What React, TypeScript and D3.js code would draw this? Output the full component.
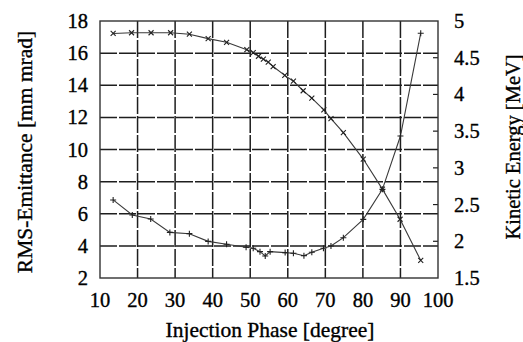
import React, { useEffect, useRef } from "react";
import * as d3 from "d3";

// Emittance series (left axis)
const emitPhase = [13.5, 18.6, 23.5, 28.6, 33.8, 38.8, 43.7, 48.9, 50.8, 52.6, 54.0, 55.3, 59.3, 61.5, 64.3, 66.4, 69.5, 71.5, 74.8, 80.1, 85.2, 90.0, 95.4];
const emitValues = [6.86, 5.92, 5.67, 4.84, 4.76, 4.28, 4.1, 3.91, 3.85, 3.64, 3.37, 3.64, 3.58, 3.54, 3.39, 3.6, 3.85, 3.99, 4.51, 5.65, 7.52, 10.84, 17.24];

// Kinetic energy series (right axis)
const energyPhase = [13.5, 18.4, 23.6, 28.8, 33.8, 38.8, 43.7, 49.1, 50.8, 52.2, 53.5, 54.8, 56.1, 59.2, 61.5, 64.1, 66.4, 69.6, 71.5, 74.8, 80.1, 85.2, 89.9, 95.4];
const energyValues = [4.83, 4.84, 4.84, 4.84, 4.82, 4.76, 4.71, 4.61, 4.57, 4.52, 4.48, 4.44, 4.38, 4.26, 4.18, 4.05, 3.95, 3.79, 3.67, 3.48, 3.12, 2.71, 2.3, 1.74];

const xTicks = [10, 20, 30, 40, 50, 60, 70, 80, 90, 100];
const leftTicks = [2, 4, 6, 8, 10, 12, 14, 16, 18];
const rightTicks = [1.5, 2, 2.5, 3, 3.5, 4, 4.5, 5];

const width = 523;
const height = 342;
const FONT = "Liberation Serif, serif";

export default function App() {
    const svgRef = useRef<SVGSVGElement>(null);

    useEffect(() => {
        const margin = { top: 21, right: 85, bottom: 64, left: 100 };
        const innerWidth = width - margin.left - margin.right;
        const innerHeight = height - margin.top - margin.bottom;

        const svg = d3.select(svgRef.current);
        svg.selectAll("*").remove();

        const g = svg.append("g").attr("transform", `translate(${margin.left},${margin.top})`);

        const x = d3.scaleLinear().domain([10, 100]).range([0, innerWidth]);
        const yL = d3.scaleLinear().domain([2, 18]).range([innerHeight, 0]);
        const yR = d3.scaleLinear().domain([1.5, 5]).range([innerHeight, 0]);

        const gridColor = "#1e1e1e";

        // grid
        g.append("g")
            .selectAll("line")
            .data(xTicks.slice(1, -1))
            .join("line")
            .attr("x1", (d) => x(d))
            .attr("x2", (d) => x(d))
            .attr("y1", 0)
            .attr("y2", innerHeight)
            .attr("stroke", gridColor)
            .attr("stroke-width", 1.5)
            .attr("stroke-dasharray", "17,2");

        g.append("g")
            .selectAll("line")
            .data(leftTicks.slice(1, -1))
            .join("line")
            .attr("x1", 0)
            .attr("x2", innerWidth)
            .attr("y1", (d) => yL(d))
            .attr("y2", (d) => yL(d))
            .attr("stroke", gridColor)
            .attr("stroke-width", 1.5)
            .attr("stroke-dasharray", "17,2");

        // right axis inward ticks
        g.append("g")
            .selectAll("line")
            .data(rightTicks.slice(1, -1))
            .join("line")
            .attr("x1", innerWidth - 5)
            .attr("x2", innerWidth)
            .attr("y1", (d) => yR(d))
            .attr("y2", (d) => yR(d))
            .attr("stroke", gridColor)
            .attr("stroke-width", 1.2);

        // frame
        g.append("rect")
            .attr("width", innerWidth)
            .attr("height", innerHeight)
            .attr("fill", "none")
            .attr("stroke", "#333")
            .attr("stroke-width", 1.4);

        const lineColor = "#3a3a3a";

        // emittance
        const emit = emitPhase.map((p, i) => [p, emitValues[i]] as [number, number]);
        g.append("path")
            .datum(emit)
            .attr("fill", "none")
            .attr("stroke", lineColor)
            .attr("stroke-width", 1.1)
            .attr("d", d3.line<[number, number]>().x((d) => x(d[0])).y((d) => yL(d[1])));
        g.append("g")
            .selectAll("path")
            .data(emit)
            .join("path")
            .attr("d", (d) => {
                const cx = x(d[0]);
                const cy = yL(d[1]);
                return `M${cx - 3},${cy}H${cx + 3}M${cx},${cy - 3}V${cy + 3}`;
            })
            .attr("stroke", "#222")
            .attr("stroke-width", 1.1);

        // energy
        const energy = energyPhase.map((p, i) => [p, energyValues[i]] as [number, number]);
        g.append("path")
            .datum(energy)
            .attr("fill", "none")
            .attr("stroke", lineColor)
            .attr("stroke-width", 1.1)
            .attr("d", d3.line<[number, number]>().x((d) => x(d[0])).y((d) => yR(d[1])));
        g.append("g")
            .selectAll("path")
            .data(energy)
            .join("path")
            .attr("d", (d) => {
                const cx = x(d[0]);
                const cy = yR(d[1]);
                return `M${cx - 2.5},${cy - 2.5}L${cx + 2.5},${cy + 2.5}M${cx - 2.5},${cy + 2.5}L${cx + 2.5},${cy - 2.5}`;
            })
            .attr("stroke", "#222")
            .attr("stroke-width", 1.1);

        const txt = (sel: d3.Selection<any, any, any, any>, size: number) =>
            sel
                .attr("font-family", FONT)
                .attr("font-size", size)
                .attr("fill", "#000")
                .attr("stroke", "#000")
                .attr("stroke-width", 0.35);

        // tick labels
        txt(
            g.append("g")
                .selectAll("text")
                .data(xTicks)
                .join("text")
                .attr("x", (d) => x(d))
                .attr("y", innerHeight + 29)
                .attr("text-anchor", "middle")
                .text((d) => d),
            20.5
        );

        txt(
            g.append("g")
                .selectAll("text")
                .data(leftTicks)
                .join("text")
                .attr("x", -12)
                .attr("y", (d) => yL(d) + 7)
                .attr("text-anchor", "end")
                .text((d) => d),
            20.5
        );

        txt(
            g.append("g")
                .selectAll("text")
                .data(rightTicks)
                .join("text")
                .attr("x", innerWidth + 16)
                .attr("y", (d) => yR(d) + 7)
                .attr("text-anchor", "start")
                .text((d) => d),
            20.5
        );

        // axis titles
        txt(
            svg.append("text")
                .attr("x", 270)
                .attr("y", 337)
                .attr("text-anchor", "middle")
                .text("Injection Phase [degree]"),
            21.5
        );

        txt(
            svg.append("text")
                .attr("transform", `translate(32,152) rotate(-90)`)
                .attr("text-anchor", "middle")
                .text("RMS-Emittance [mm mrad]"),
            21.5
        );

        txt(
            svg.append("text")
                .attr("transform", `translate(520,147) rotate(-90)`)
                .attr("text-anchor", "middle")
                .text("Kinetic Energy [MeV]"),
            20.5
        );
    }, []);

    return (
        <svg
            ref={svgRef}
            width={width}
            height={height}
            style={{ position: "absolute", left: 0, top: 0, background: "#fff" }}
        />
    );
}
